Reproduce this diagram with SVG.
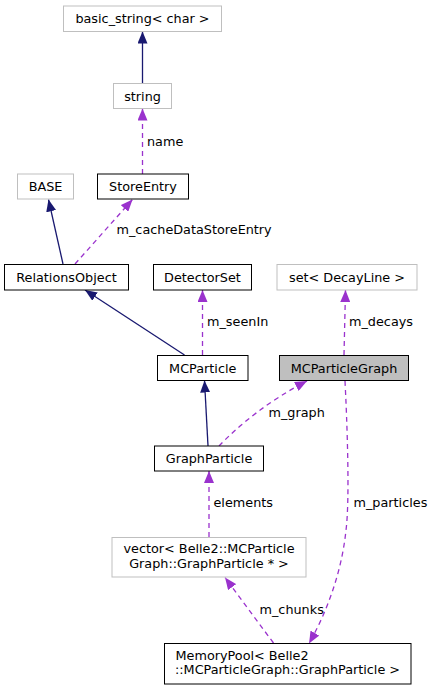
<svg xmlns="http://www.w3.org/2000/svg" width="436" height="691" viewBox="0 0 436 691">
<style>
.n rect{fill:#ffffff;stroke:#000000;stroke-width:1}
.n.u rect{stroke:#bfbfbf}
.n.f rect{fill:#bfbfbf}
text{font-family:"DejaVu Sans","Liberation Sans",sans-serif;font-size:12.8px;fill:#000000}
.n text{text-anchor:middle}
.n text.l{text-anchor:start}
.inh{fill:none;stroke:#191970;stroke-width:1.3}
.use{fill:none;stroke:#9a32cd;stroke-width:1.3;stroke-dasharray:5,4}
</style>
<defs>
<marker id="ai" markerUnits="userSpaceOnUse" viewBox="0 0 12 10" refX="12" refY="5" markerWidth="12" markerHeight="10" orient="auto"><path d="M0,0 L12,5 L0,10 z" fill="#191970"/></marker>
<marker id="au" markerUnits="userSpaceOnUse" viewBox="0 0 12 10" refX="12" refY="5" markerWidth="12" markerHeight="10" orient="auto"><path d="M0,0 L12,5 L0,10 z" fill="#9a32cd"/></marker>
</defs>
<g id="connectors">
<path class="inh" marker-end="url(#ai)" d="M142.5,83 L142.5,31.5"/>
<path class="use" marker-end="url(#au)" d="M142.5,174 L142.5,108.5"/>
<text x="147" y="145.5">name</text>
<path class="inh" marker-end="url(#ai)" d="M63,264 L48.5,199.5"/>
<path class="use" marker-end="url(#au)" d="M75,264 L132.5,199.5"/>
<text x="116.5" y="234.3">m_cacheDataStoreEntry</text>
<path class="inh" marker-end="url(#ai)" d="M184.5,355 L85,290"/>
<path class="use" marker-end="url(#au)" d="M202.5,355 L202.5,290"/>
<text x="207" y="326">m_seenIn</text>
<path class="use" marker-end="url(#au)" d="M344,355 L345.5,290"/>
<text x="349" y="326">m_decays</text>
<path class="inh" marker-end="url(#ai)" d="M208,446 L204.5,380.5"/>
<path class="use" marker-end="url(#au)" d="M219,446 C240,424 270,400 307,381"/>
<text x="268.5" y="416.5">m_graph</text>
<path class="use" marker-end="url(#au)" d="M209,537 L209,471"/>
<text x="213.5" y="506.5">elements</text>
<path class="use" marker-end="url(#au)" d="M345,381 C347,420 350,500 346,530 C342,570 328,610 309,643.5"/>
<text x="353.5" y="506.5">m_particles</text>
<path class="use" marker-end="url(#au)" d="M273.5,643 L225,577.5"/>
<text x="259.5" y="614">m_chunks</text>
</g>
<g id="basic_string" class="n u"><rect x="63.5" y="6" width="158" height="25.5"/><text x="142.5" y="23">basic_string&lt; char &gt;</text></g>
<g id="string" class="n u"><rect x="113.5" y="83.5" width="58" height="25"/><text x="142.5" y="100.5">string</text></g>
<g id="StoreEntry" class="n"><rect x="97.5" y="174" width="91" height="25"/><text x="143" y="191">StoreEntry</text></g>
<g id="BASE" class="n u"><rect x="17.5" y="174" width="56" height="25"/><text x="45.5" y="191">BASE</text></g>
<g id="RelationsObject" class="n"><rect x="4.5" y="264.5" width="124" height="25.5"/><text x="66.5" y="281.5">RelationsObject</text></g>
<g id="DetectorSet" class="n"><rect x="153.5" y="264.5" width="98" height="25.5"/><text x="202.5" y="281.5">DetectorSet</text></g>
<g id="set_DecayLine" class="n u"><rect x="277" y="264.5" width="140" height="25.5"/><text x="347" y="281.5">set&lt; DecayLine &gt;</text></g>
<g id="MCParticle" class="n"><rect x="157.5" y="355.5" width="90.5" height="25"/><text x="202.75" y="372.5">MCParticle</text></g>
<g id="MCParticleGraph" class="n f"><rect x="279.5" y="355.5" width="129" height="25"/><text x="344" y="372.5">MCParticleGraph</text></g>
<g id="GraphParticle" class="n"><rect x="154.5" y="446" width="109" height="25"/><text x="209" y="463">GraphParticle</text></g>
<g id="vector" class="n u"><rect x="112" y="537.5" width="194" height="39.5"/><text x="209" y="553">vector&lt; Belle2::MCParticle</text><text x="209" y="567.5">Graph::GraphParticle * &gt;</text></g>
<g id="MemoryPool" class="n"><rect x="164.5" y="643.5" width="246.5" height="40.5"/><text class="l" x="175.5" y="659.5">MemoryPool&lt; Belle2</text><text class="l" x="175" y="674">::MCParticleGraph::GraphParticle &gt;</text></g>
</svg>
